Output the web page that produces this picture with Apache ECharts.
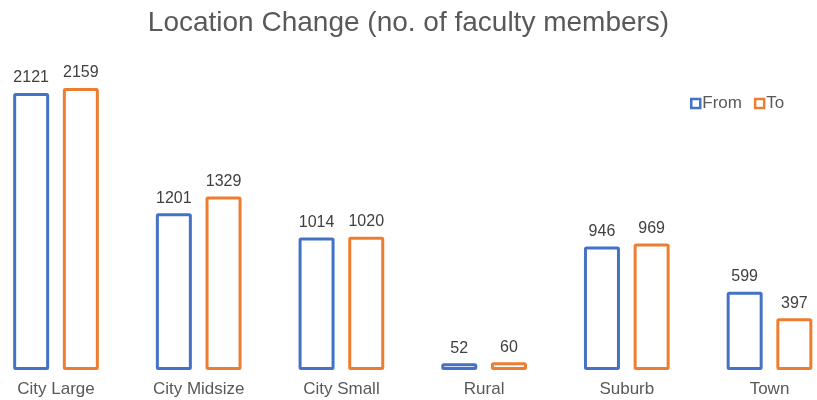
<!DOCTYPE html>
<html>
<head>
<meta charset="utf-8">
<script src="https://cdn.jsdelivr.net/npm/echarts@6/dist/echarts.min.js"></script>
<style>
  html, body { margin: 0; padding: 0; background: #fff; }
  #chart { width: 817px; height: 400px; }
</style>
</head>
<body>
<div id="chart"></div>
<script>
var categories = ["City Large", "City Midsize", "City Small", "Rural", "Suburb", "Town"];
var fromValues = [2121, 1201, 1014, 52, 946, 599];
var toValues = [2159, 1329, 1020, 60, 969, 397];

var chart = echarts.init(document.getElementById("chart"));

var font = "Liberation Sans, Arial, sans-serif";

function barSeries(name, data, color) {
  return {
    name: name,
    type: "bar",
    data: data,
    barWidth: 36,
    barGap: "38%",
    itemStyle: {
      color: "#ffffff",
      borderColor: color,
      borderWidth: 3,
      borderRadius: 1
    },
    label: {
      show: true,
      position: "top",
      distance: 7,
      color: "#404040",
      fontSize: 16,
      fontFamily: font
    }
  };
}

chart.setOption({
  animation: false,
  title: {
    text: "Location Change (no. of faculty members)",
    left: "center",
    top: 4,
    textStyle: {
      color: "#595959",
      fontSize: 28,
      fontWeight: "normal",
      fontFamily: font
    }
  },
  legend: {
    data: [
      { name: "From", itemStyle: { color: "#fff", borderColor: "#4472C4", borderWidth: 2.5 } },
      { name: "To", itemStyle: { color: "#fff", borderColor: "#ED7D31", borderWidth: 2.5 } }
    ],
    left: 685,
    top: 90,
    icon: "rect",
    itemWidth: 9,
    itemHeight: 9,
    itemGap: 12,
    textStyle: {
      color: "#595959",
      fontSize: 17,
      fontFamily: font,
      padding: [0, 0, 0, -3]
    }
  },
  grid: {
    left: -15.35,
    width: 856.2,
    top: 43.5,
    bottom: 30,
    outerBoundsMode: "none",
    containLabel: false
  },
  xAxis: {
    type: "category",
    data: categories,
    axisLine: { show: false },
    axisTick: { show: false },
    axisLabel: {
      color: "#595959",
      fontSize: 17,
      fontFamily: font,
      margin: 11
    }
  },
  yAxis: {
    type: "value",
    min: 0,
    max: 2500,
    show: false,
    splitLine: { show: false }
  },
  series: [
    barSeries("From", fromValues, "#4472C4"),
    barSeries("To", toValues, "#ED7D31")
  ]
});
</script>
</body>
</html>
